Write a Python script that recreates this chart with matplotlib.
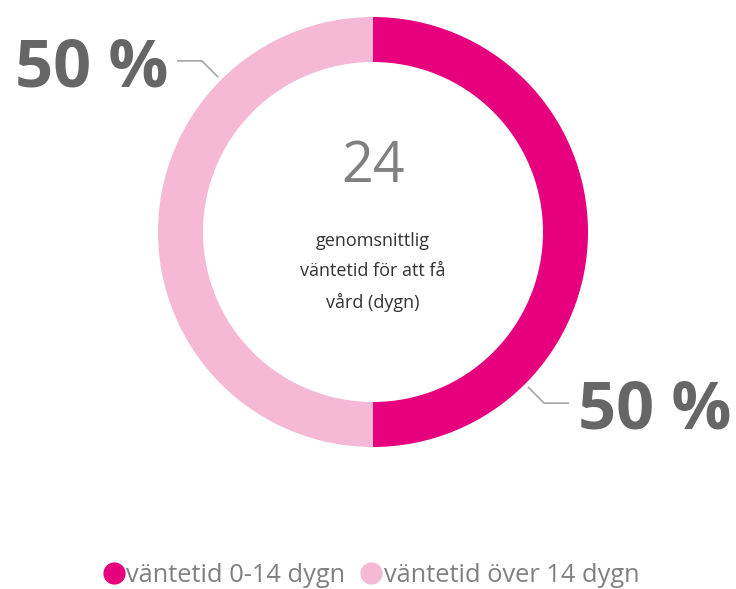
import numpy as np
import matplotlib
matplotlib.use("Agg")
import matplotlib.pyplot as plt
from matplotlib.lines import Line2D

categories = ["väntetid 0-14 dygn", "väntetid över 14 dygn"]
values = [50, 50]
colors = ["#E6007E", "#F5B9D5"]
center_value = "24"
center_text = "genomsnittlig\nväntetid för att få\nvård (dygn)"

W, H = 736, 589
fig = plt.figure(figsize=(W / 100, H / 100), dpi=100)
ax = fig.add_axes([0, 0, 1, 1])

cx, cy, R = 373, H - 232, 215
wedges, _ = ax.pie(values, colors=colors, startangle=90, counterclock=False,
                   radius=R, center=(cx, cy), frame=True,
                   wedgeprops=dict(width=45, edgecolor="none"))
ax.set_xlim(0, W)
ax.set_ylim(0, H)
ax.set_aspect("equal")
ax.axis("off")

# labels with leader lines
total = sum(values)
lab_angles = [-45, 135]
for v, ang in zip(values, lab_angles):
    a = np.deg2rad(ang)
    x0, y0 = cx + (R + 5) * np.cos(a), cy + (R + 5) * np.sin(a)
    x1, y1 = cx + (R + 27) * np.cos(a), cy + (R + 27) * np.sin(a)
    sgn = 1 if np.cos(a) > 0 else -1
    x2 = x1 + sgn * 24
    ax.plot([x0, x1, x2], [y0, y1, y1], color="#AAAAAA", lw=1.3,
            solid_joinstyle="miter")
    ax.text(x2 + sgn * 10, y1 - 8, f"{round(v / total * 100)} %",
            ha="left" if sgn > 0 else "right", va="center",
            fontsize=48, fontweight="bold", color="#666666",
            family="Open Sans")

ax.text(cx, H - 168, center_value, ha="center", va="center", fontsize=40,
        color="#808080", family="Open Sans")
ax.text(cx, H - 272, center_text, ha="center", va="center", fontsize=13,
        color="#333333", family="Open Sans", linespacing=1.88)

handles = [Line2D([], [], marker="o", ls="none", markersize=16,
                  markerfacecolor=c, markeredgecolor="none") for c in colors]
fig.legend(handles, categories, loc="center", bbox_to_anchor=(370 / W, 1 - 575 / H),
           ncol=2, frameon=False, handletextpad=0.0,
           columnspacing=0.5, handlelength=1.0, labelcolor="#808080",
           prop=dict(family="Open Sans", size=18.3))

fig.savefig("out.png", dpi=100)
